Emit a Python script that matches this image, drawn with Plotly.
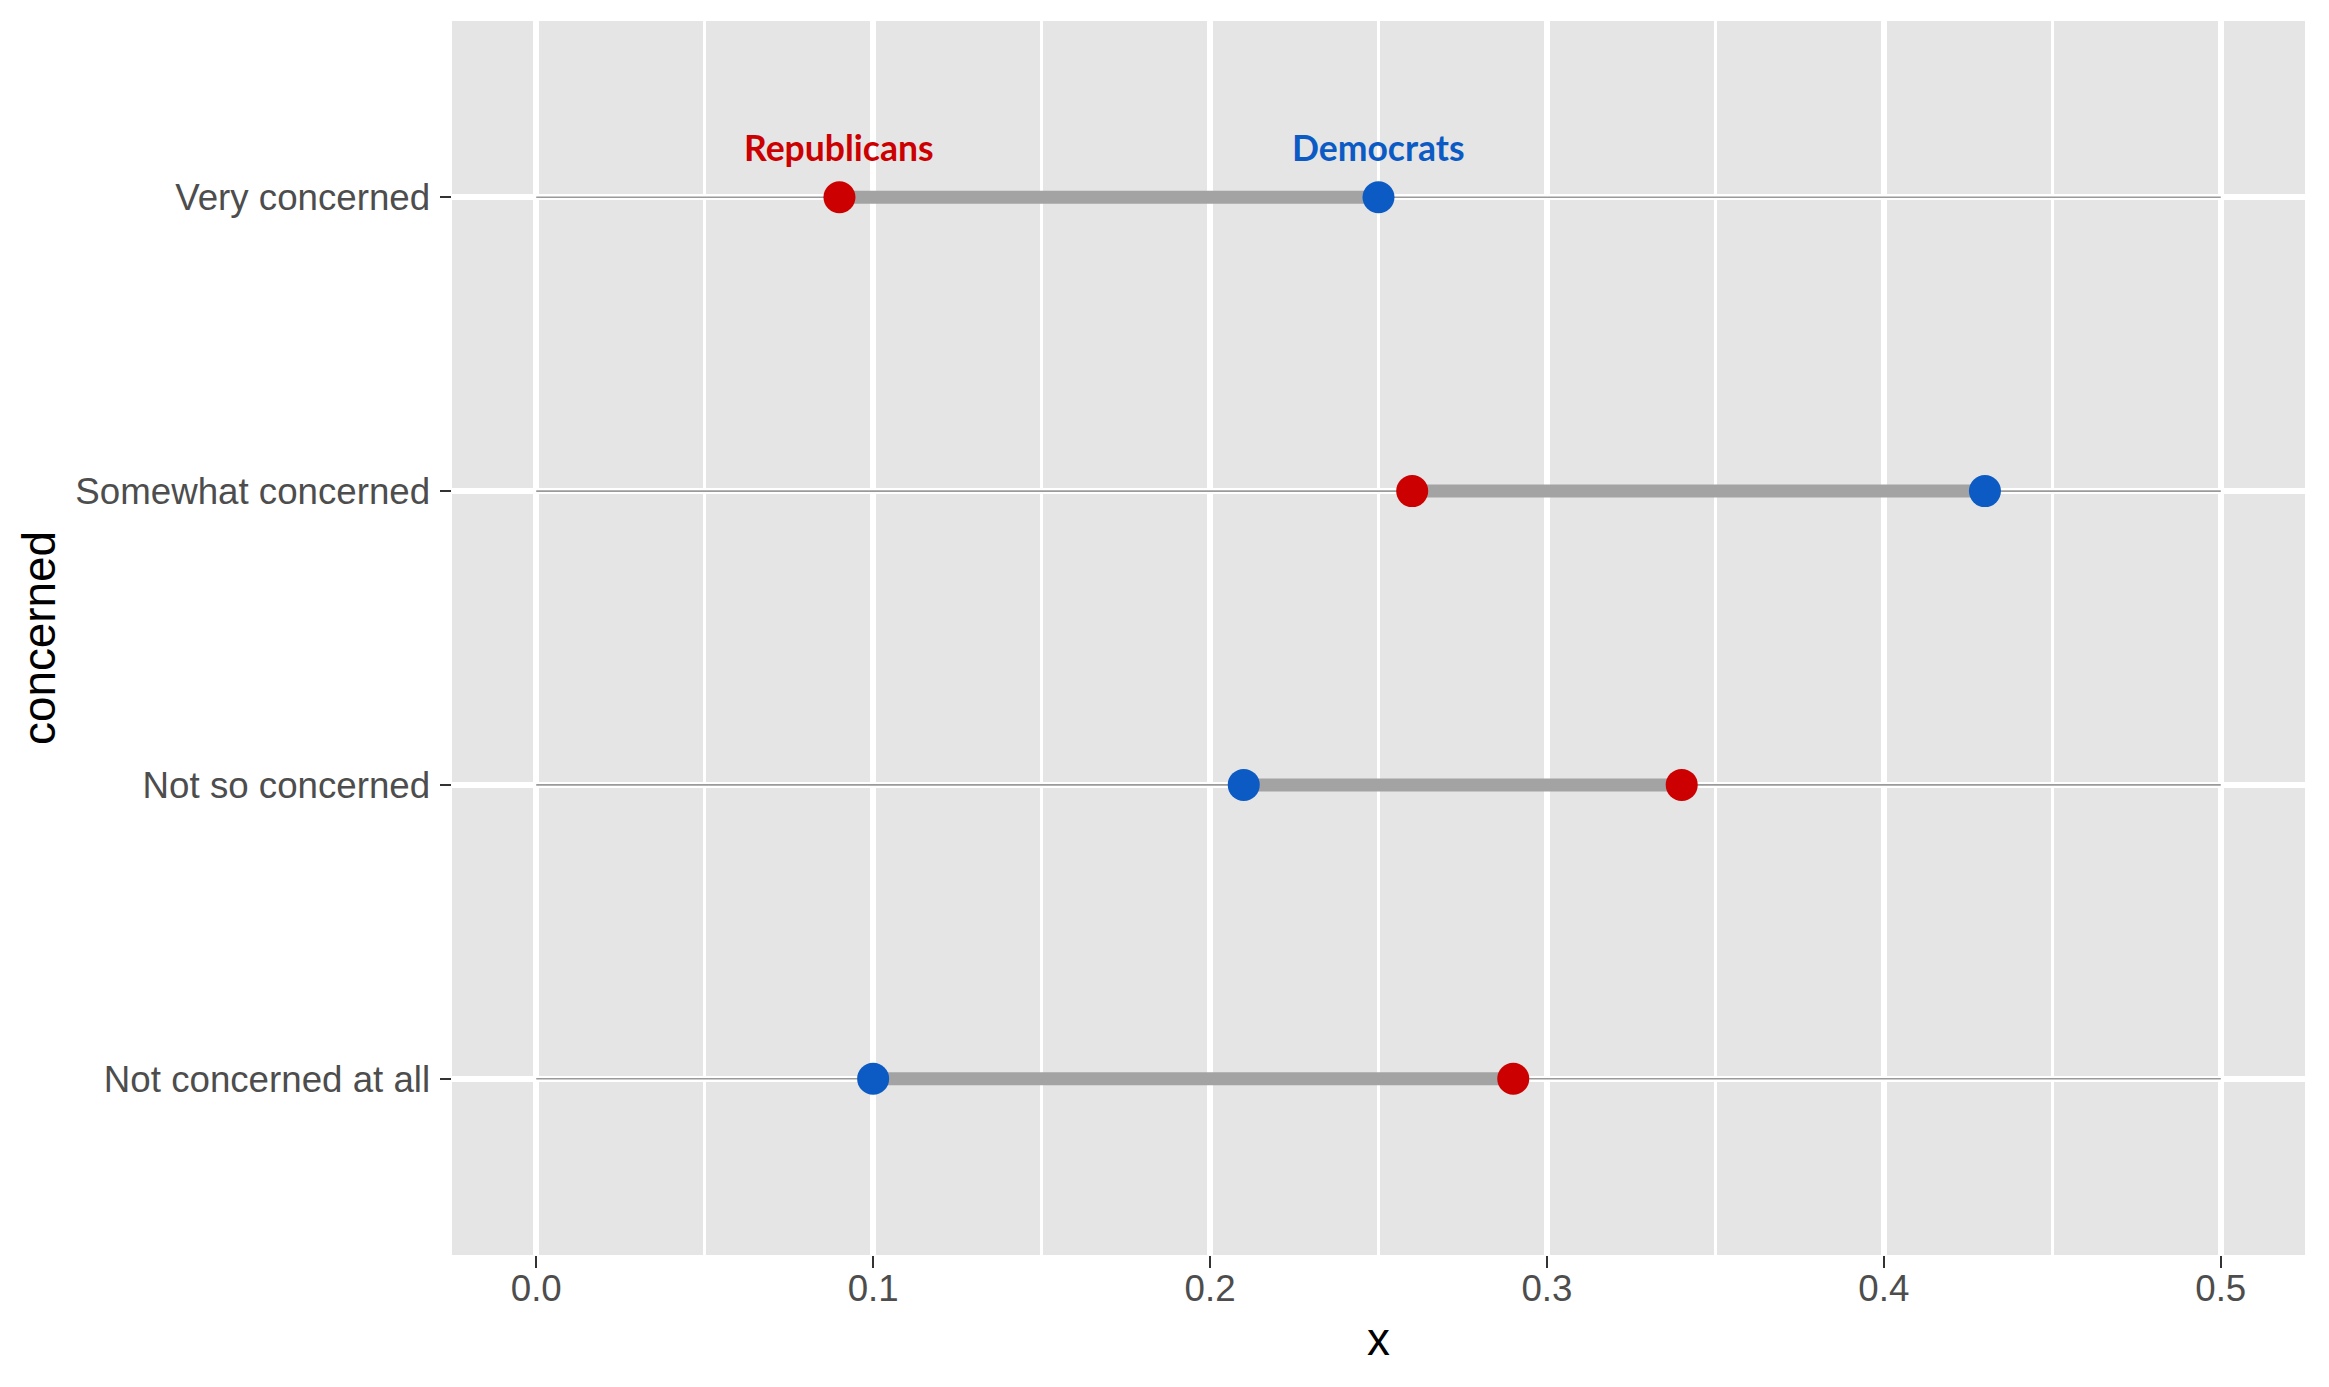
import plotly.graph_objects as go

# ---- data ----
categories = ["Very concerned", "Somewhat concerned", "Not so concerned", "Not concerned at all"]
republicans = [0.09, 0.26, 0.34, 0.29]
democrats = [0.25, 0.43, 0.21, 0.10]
guide_range = [0.0, 0.5]
x_ticks = [0.0, 0.1, 0.2, 0.3, 0.4, 0.5]
label_row = "Very concerned"

RED = "#CC0000"
BLUE = "#0C5BC4"
SEG = "#A3A3A3"

fig = go.Figure()

# thin guide lines across each row
gx, gy = [], []
for c in categories:
    gx += [guide_range[0], guide_range[1], None]
    gy += [c, c, None]
fig.add_trace(go.Scatter(x=gx, y=gy, mode="lines",
                         line=dict(color="#9A9A9A", width=1.6),
                         hoverinfo="skip", showlegend=False))

# dumbbell segments
sx, sy = [], []
for c, r, d in zip(categories, republicans, democrats):
    sx += [r, d, None]
    sy += [c, c, None]
fig.add_trace(go.Scatter(x=sx, y=sy, mode="lines",
                         line=dict(color=SEG, width=13),
                         hoverinfo="skip", showlegend=False))

fig.add_trace(go.Scatter(x=republicans, y=categories, mode="markers",
                         marker=dict(color=RED, size=32, line=dict(width=0)),
                         name="Republicans", showlegend=False))
fig.add_trace(go.Scatter(x=democrats, y=categories, mode="markers",
                         marker=dict(color=BLUE, size=32, line=dict(width=0)),
                         name="Democrats", showlegend=False))

i = categories.index(label_row)
for txt, val, col in [("Republicans", republicans[i], RED), ("Democrats", democrats[i], BLUE)]:
    fig.add_annotation(x=val, y=label_row, text=f"<b>{txt}</b>", showarrow=False,
                       yshift=50, xanchor="center", yanchor="middle",
                       font=dict(family="Lato", size=35.5, color=col))

fig.update_layout(
    width=2329, height=1387,
    margin=dict(l=452, r=24, t=21, b=132, autoexpand=False),
    paper_bgcolor="white", plot_bgcolor="#E5E5E5",
    font=dict(family="Liberation Sans, Arial, sans-serif"),
)

fig.update_xaxes(
    range=[-0.025, 0.525], tickvals=x_ticks, tickformat=".1f",
    showgrid=True, gridcolor="white", gridwidth=5.5,
    minor=dict(dtick=0.05, tick0=0, showgrid=True, gridcolor="white", gridwidth=2.7, ticks=""),
    zeroline=False, showline=False,
    ticks="outside", ticklen=11.5, tickwidth=2.3, tickcolor="#333333",
    tickfont=dict(size=36.7, color="#4D4D4D"),
    ticklabelstandoff=-11,
    title=dict(text="x", font=dict(size=45.8, color="black"), standoff=15),
    automargin=False,
)
fig.update_yaxes(
    type="category", categoryorder="array", categoryarray=categories[::-1],
    range=[-0.6, 3.6],
    showgrid=True, gridcolor="white", gridwidth=5.5,
    zeroline=False, showline=False,
    ticks="outside", ticklen=11.5, tickwidth=2.3, tickcolor="#333333",
    tickfont=dict(size=36.7, color="#4D4D4D"),
    ticklabelstandoff=2,
    title=dict(text="concerned", font=dict(size=45.8, color="black"), standoff=5),
    automargin=False,
)

fig.write_html("out.html", config={"displayModeBar": False},
               post_script="document.body.style.margin='0';document.body.style.overflow='hidden';")
